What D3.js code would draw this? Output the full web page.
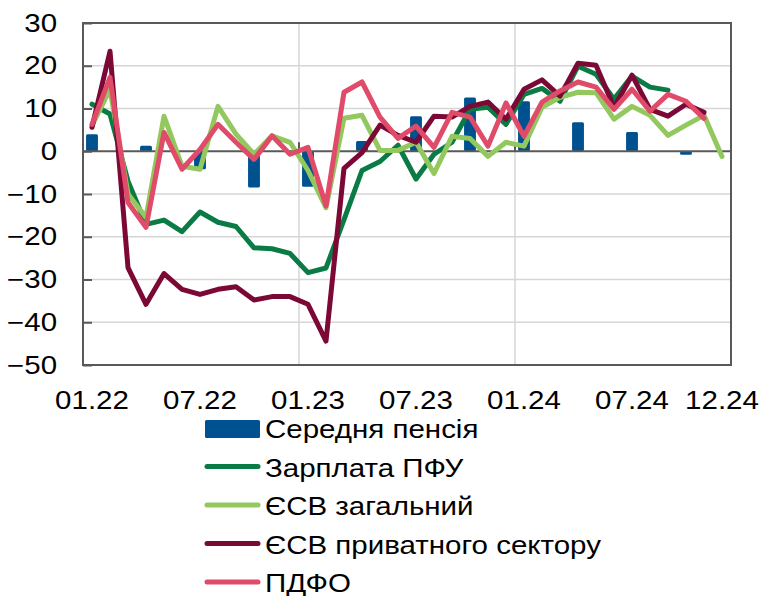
<!DOCTYPE html>
<html lang="uk">

<head>
	<meta charset="utf-8">
	<title>Pension fund revenues, % yoy</title>
	<script type="text/javascript" src="https://cdn.jsdelivr.net/npm/d3@7"></script>
	<style type="text/css">
		body { margin: 0; background: #fff; }
		text { font-family: "Liberation Sans", Arial, sans-serif; fill: #000; }
	</style>
</head>

<body>
	<svg id="chart" width="761" height="596"></svg>
	<script type="text/javascript">
		const months = [
			"01.22", "02.22", "03.22", "04.22", "05.22", "06.22", "07.22", "08.22", "09.22", "10.22", "11.22", "12.22",
			"01.23", "02.23", "03.23", "04.23", "05.23", "06.23", "07.23", "08.23", "09.23", "10.23", "11.23", "12.23",
			"01.24", "02.24", "03.24", "04.24", "05.24", "06.24", "07.24", "08.24", "09.24", "10.24", "11.24", "12.24"
		];
		const xTickLabels = ["01.22", "07.22", "01.23", "07.23", "01.24", "07.24", "12.24"];
		const yTicks = [-50, -40, -30, -20, -10, 0, 10, 20, 30];

		// Середня пенсія (quarterly)
		const pension = [
			4.0, null, null, 1.3, null, null, -4.2, null, null, -8.5, null, null,
			-8.3, null, null, 2.4, null, null, 8.2, null, null, 12.6, null, null,
			11.7, null, null, 6.8, null, null, 4.5, null, null, -0.8, null, null
		];
		// Зарплата ПФУ
		const wagePFU = [
			11.0, 8.7, -7.0, -17.1, -16.1, -18.8, -14.2, -16.6, -17.6, -22.6, -22.8, -23.9,
			-28.4, -27.3, -16.0, -4.5, -2.4, 1.4, -6.5, -0.7, 2.1, 9.8, 10.3, 6.3,
			13.3, 14.7, 11.7, 19.9, 18.0, 12.2, 17.6, 15.0, 14.3, null, null, null
		];
		// ЄСВ загальний
		const ssvTotal = [
			6.0, 14.5, -10.0, -15.5, 8.2, -3.5, -4.2, 10.5, 4.0, -0.7, 3.6, 2.1,
			-4.5, -13.2, 7.7, 8.4, 0.2, 0.2, 2.1, -5.2, 3.5, 3.0, -1.2, 2.1,
			1.2, 10.3, 12.6, 13.8, 13.7, 7.5, 10.5, 8.4, 3.7, 6.1, 8.4, -1.2
		];
		// ЄСВ приватного сектору
		const ssvPrivate = [
			5.6, 23.4, -27.2, -35.8, -28.6, -32.3, -33.5, -32.3, -31.7, -34.8, -34.0, -34.0,
			-35.8, -44.4, -4.0, -0.3, 6.1, 3.7, 2.1, 8.2, 8.0, 10.5, 11.5, 7.5,
			14.5, 16.7, 12.9, 20.6, 20.1, 10.3, 17.8, 9.8, 8.2, 11.0, 9.1, null
		];
		// ПДФО
		const pit = [
			6.3, 17.3, -12.0, -17.8, 4.4, -4.2, 0.4, 6.3, 2.1, -1.9, 3.6, -0.7,
			0.9, -12.8, 13.8, 16.2, 8.0, 3.0, 5.9, 0.9, 9.1, 8.0, 1.2, 11.3,
			3.5, 11.5, 14.1, 16.2, 15.0, 9.8, 14.5, 9.4, 13.3, 11.7, 7.7, null
		];

		const lineSeries = [
			{ name: "Зарплата ПФУ", values: wagePFU, color: "#0b7b45" },
			{ name: "ЄСВ загальний", values: ssvTotal, color: "#92c85e" },
			{ name: "ЄСВ приватного сектору", values: ssvPrivate, color: "#7b0835" },
			{ name: "ПДФО", values: pit, color: "#df4b69" }
		];
		const barColor = "#005190";
		const stretch = "scale(1.18,1)";

		const svg = d3.select("#chart");
		const plotLeft = 83, plotRight = 731, plotTop = 23, plotBottom = 365;

		const x = d3.scaleBand().domain(months).range([plotLeft, plotRight]);
		const y = d3.scaleLinear().domain([-50, 30]).range([plotBottom, plotTop]);

		// horizontal gridlines
		svg.append("g")
			.selectAll("line")
			.data(yTicks.filter(d => d !== 0 && d !== 30 && d !== -50))
			.enter().append("line")
			.attr("x1", plotLeft).attr("x2", plotRight)
			.attr("y1", d => y(d)).attr("y2", d => y(d))
			.attr("stroke", "#d6d6d6").attr("stroke-width", 1.5);

		// vertical gridlines at year boundaries
		const yearStarts = ["01.23", "01.24"];
		svg.append("g")
			.selectAll("line")
			.data(yearStarts)
			.enter().append("line")
			.attr("x1", d => x(d)).attr("x2", d => x(d))
			.attr("y1", plotTop).attr("y2", plotBottom)
			.attr("stroke", "#d6d6d6").attr("stroke-width", 1.5);

		// bars
		const bw = x.bandwidth() * 0.66;
		svg.append("g")
			.selectAll("rect")
			.data(months.map((m, i) => ({ m: m, v: pension[i] })).filter(d => d.v !== null))
			.enter().append("rect")
			.attr("x", d => x(d.m) + (x.bandwidth() - bw) / 2)
			.attr("width", bw)
			.attr("y", d => y(Math.max(0, d.v)))
			.attr("height", d => Math.abs(y(d.v) - y(0)))
			.attr("rx", 1.5)
			.attr("fill", barColor);

		// zero line with year ticks
		svg.append("line")
			.attr("x1", plotLeft).attr("x2", plotRight)
			.attr("y1", y(0)).attr("y2", y(0))
			.attr("stroke", "#595959").attr("stroke-width", 2);
		svg.append("g")
			.selectAll("line")
			.data(yearStarts)
			.enter().append("line")
			.attr("x1", d => x(d)).attr("x2", d => x(d))
			.attr("y1", y(0)).attr("y2", y(0) - 9)
			.attr("stroke", "#595959").attr("stroke-width", 2);

		// lines
		const line = d3.line()
			.defined(d => d.v !== null)
			.x(d => x(d.m) + x.bandwidth() / 2)
			.y(d => y(d.v));

		svg.append("g")
			.selectAll("path")
			.data(lineSeries)
			.enter().append("path")
			.attr("d", s => line(months.map((m, i) => ({ m: m, v: s.values[i] }))))
			.attr("fill", "none")
			.attr("stroke", s => s.color)
			.attr("stroke-width", 5)
			.attr("stroke-linejoin", "round")
			.attr("stroke-linecap", "round");

		// frame
		svg.append("rect")
			.attr("x", plotLeft).attr("y", plotTop)
			.attr("width", plotRight - plotLeft).attr("height", plotBottom - plotTop)
			.attr("fill", "none")
			.attr("stroke", "#595959").attr("stroke-width", 2);

		// y axis
		const yAxis = svg.append("g")
			.attr("transform", `translate(${plotLeft},0)`)
			.call(d3.axisLeft(y).tickValues(yTicks).tickSize(-9).tickPadding(22).tickFormat(d3.format("d")));
		yAxis.select(".domain").remove();
		yAxis.selectAll("line").attr("stroke", "#595959").attr("stroke-width", 2);
		yAxis.selectAll("text")
			.attr("transform", stretch)
			.style("font-size", "25px")
			.style("font-family", "'Liberation Sans', Arial, sans-serif");

		// x axis
		const xAxis = svg.append("g")
			.attr("transform", `translate(0,${plotBottom})`)
			.call(d3.axisBottom(x).tickValues(xTickLabels).tickSize(0).tickPadding(26));
		xAxis.select(".domain").remove();
		xAxis.selectAll("text")
			.attr("transform", stretch)
			.style("font-size", "25px")
			.style("font-family", "'Liberation Sans', Arial, sans-serif");

		// legend
		const legendItems = [{ name: "Середня пенсія", color: barColor, bar: true }]
			.concat(lineSeries.map(s => ({ name: s.name, color: s.color, bar: false })));
		const legend = svg.append("g")
			.selectAll("g")
			.data(legendItems)
			.enter().append("g")
			.attr("transform", (d, i) => `translate(205,${438 + i * 38.5})`);

		legend.filter(d => d.bar).append("rect")
			.attr("x", 0).attr("y", -18)
			.attr("width", 55).attr("height", 18)
			.attr("rx", 1.5)
			.attr("fill", d => d.color);
		legend.filter(d => !d.bar).append("line")
			.attr("x1", 2).attr("x2", 53)
			.attr("y1", -10).attr("y2", -10)
			.attr("stroke", d => d.color)
			.attr("stroke-width", 5)
			.attr("stroke-linecap", "round");
		legend.append("text")
			.attr("transform", "translate(60,0) " + stretch)
			.style("font-size", "25px")
			.text(d => d.name);
	</script>
</body>

</html>
